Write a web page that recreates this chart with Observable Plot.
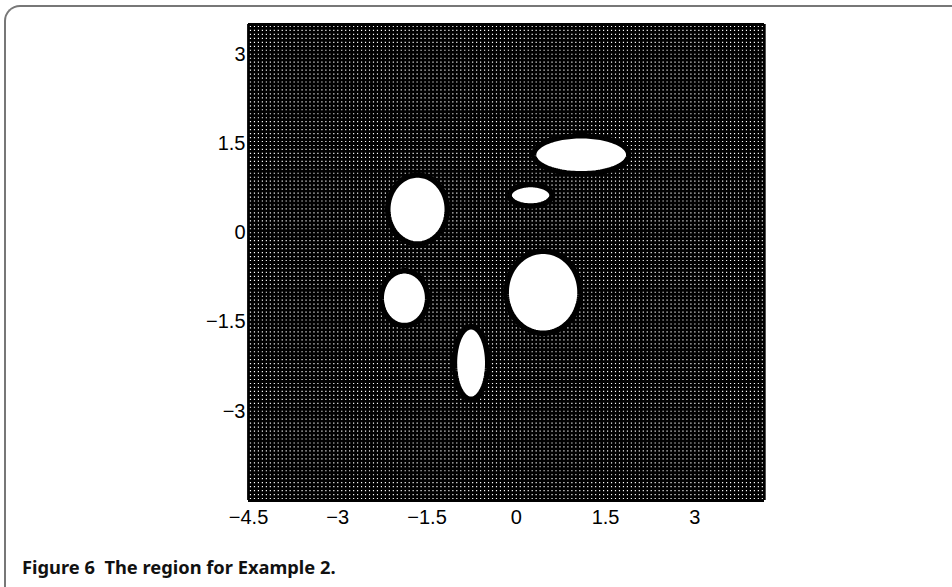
<!DOCTYPE html>
<html>
<head>
<meta charset="utf-8">
<script src="https://cdn.jsdelivr.net/npm/d3@7"></script>
<script src="https://cdn.jsdelivr.net/npm/@observablehq/plot@0.6"></script>
<style>
  html, body { margin: 0; padding: 0; background: #fff; }
  body { width: 952px; height: 587px; position: relative; overflow: hidden; }
  #frame { position: absolute; left: 4px; top: 5px; width: 980px; height: 620px;
           border-top: 2px solid #777; border-left: 2px solid #777; border-top-left-radius: 16px; box-sizing: border-box; }
  #chart { position: absolute; left: 0; top: 0; }
  #caption { position: absolute; left: 22px; top: 554px; font-family: "Noto Sans", "Open Sans", sans-serif;
             font-weight: bold; font-size: 18.3px; color: #111; white-space: pre; }
</style>
</head>
<body>
<div id="frame"></div>
<div id="chart"></div>
<div id="caption">Figure 6  The region for Example 2.</div>
<script>
// Tick labels
const xTicks = [-4.5, -3, -1.5, 0, 1.5, 3];
const yTicks = [-3, -1.5, 0, 1.5, 3];
// Domain extents
const xDomain = [-4.5, 4.17];
const yDomain = [-4.5, 3.5];
// Mesh spacing (grid lines of the discretised region)
const meshStep = 1 / 15;
// Elliptic holes: centre (cx, cy) and semi-axes (rx, ry)
const holeNames = ["E1", "E2", "E3", "E4", "E5", "E6"];
const holeCx = [1.09, 0.24, -1.66, 0.45, -1.88, -0.76];
const holeCy = [1.31, 0.63, 0.39, -1.0, -1.1, -2.19];
const holeRx = [0.80, 0.36, 0.50, 0.62, 0.39, 0.28];
const holeRy = [0.32, 0.18, 0.58, 0.69, 0.46, 0.61];

const meshX = d3.range(xDomain[0], xDomain[1] + 1e-9, meshStep);
const meshY = d3.range(yDomain[0], yDomain[1] + 1e-9, meshStep);

// Outline points of each ellipse
const outline = [];
holeNames.forEach((id, i) => {
  const n = 120;
  for (let k = 0; k < n; k++) {
    const t = (2 * Math.PI * k) / n;
    outline.push({id, x: holeCx[i] + holeRx[i] * Math.cos(t), y: holeCy[i] + holeRy[i] * Math.sin(t)});
  }
});

const fmt = d => String(d).replace("-", "\u2212");

const chart = Plot.plot({
  width: 952,
  height: 540,
  marginLeft: 248,
  marginRight: 188,
  marginTop: 24,
  marginBottom: 40,
  style: {fontFamily: "'Liberation Sans', Arial, sans-serif", fontSize: "20px", color: "#000", background: "transparent"},
  x: {domain: xDomain, label: null},
  y: {domain: yDomain, label: null},
  marks: [
    Plot.ruleX(meshX, {stroke: "black", strokeWidth: 2.8}),
    Plot.ruleY(meshY, {stroke: "black", strokeWidth: 2.8}),
    Plot.line(outline, {x: "x", y: "y", z: "id", curve: "linear-closed", fill: "white", stroke: "black", strokeWidth: 5.5}),
    Plot.axisX({ticks: xTicks, tickSize: 0, tickPadding: 9, tickFormat: fmt, fill: "black", fontSize: 20}),
    Plot.axisY({ticks: yTicks, tickSize: 0, tickPadding: 3, tickFormat: fmt, fill: "black", fontSize: 20})
  ]
});
document.getElementById("chart").appendChild(chart);
</script>
</body>
</html>
